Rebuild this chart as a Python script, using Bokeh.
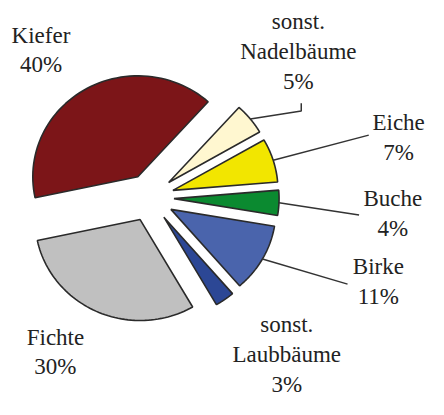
import numpy as np
from bokeh.plotting import figure
from bokeh.models import Range1d, ColumnDataSource
from bokeh.core.properties import value
from bokeh.embed import file_html
from bokeh.resources import INLINE

# ---- data ----
categories = ["Kiefer", "Fichte", "sonst.\nLaubbäume", "Birke", "Buche", "Eiche", "sonst.\nNadelbäume"]
shares = [40, 30, 3, 11, 4, 7, 5]
colors = ["#7c1518", "#c0c0c0", "#2c4795", "#4a64ac", "#0b8a30", "#f2e600", "#fff7d0"]

# ---- layout (reference-pixel coordinates, y down) ----
CX, CY = 155.0, 205.0
RX, RY = 109.0, 105.0
EXPLODE = 25.0
START_DEG = 48.0

label_pos = [(42, 36), (57, 350), (297, 337), (392, 277), (407, 206), (413, 127), (309, 22)]
LINE_GAP = 31.0
leader_end = [None, None, None, [(360, 295)], [(372, 223)], [(382, 140)], [(312, 115), (312, 107)]]

W, H = 428, 399
p = figure(width=W, height=H, output_backend="svg", toolbar_location=None,
           x_range=Range1d(0, 444), y_range=Range1d(415, 0),
           min_border=0, outline_line_color=None)
p.axis.visible = False
p.grid.visible = False

total = float(sum(shares))
xs, ys, mids, centers = [], [], [], []
a0 = np.deg2rad(START_DEG)
for s in shares:
    span = 2 * np.pi * s / total
    a1 = a0 + span
    mid = (a0 + a1) / 2
    cx = CX + EXPLODE * np.cos(mid)
    cy = CY - EXPLODE * np.sin(mid)
    t = np.linspace(a0, a1, 60)
    px = np.concatenate([[cx], cx + RX * np.cos(t), [cx]])
    py = np.concatenate([[cy], cy - RY * np.sin(t), [cy]])
    xs.append(list(px))
    ys.append(list(py))
    mids.append(mid)
    centers.append((cx, cy))
    a0 = a1

p.patches(xs=xs, ys=ys, fill_color=colors, line_color="#2a2a2a", line_width=1.6)

lx, ly = [], []
for i, end in enumerate(leader_end):
    if end is None:
        continue
    cx, cy = centers[i]
    sx = cx + RX * np.cos(mids[i])
    sy = cy - RY * np.sin(mids[i])
    lx.append([sx] + [e[0] for e in end])
    ly.append([sy] + [e[1] for e in end])
p.multi_line(xs=lx, ys=ly, line_color="#333333", line_width=1.5)

tx, ty, tt = [], [], []
for i, cat in enumerate(categories):
    lines = cat.split("\n") + [f"{shares[i]}%"]
    x0, y0 = label_pos[i]
    for j, ln in enumerate(lines):
        tx.append(x0)
        ty.append(y0 + j * LINE_GAP)
        tt.append(ln)
src = ColumnDataSource(dict(x=tx, y=ty, t=tt))
p.text(x="x", y="y", text="t", source=src, text_font=value("Liberation Serif"),
       text_font_size="23px", text_color="#222222", text_align="center",
       text_baseline="middle")

open("out.html", "w").write(file_html(p, INLINE))
